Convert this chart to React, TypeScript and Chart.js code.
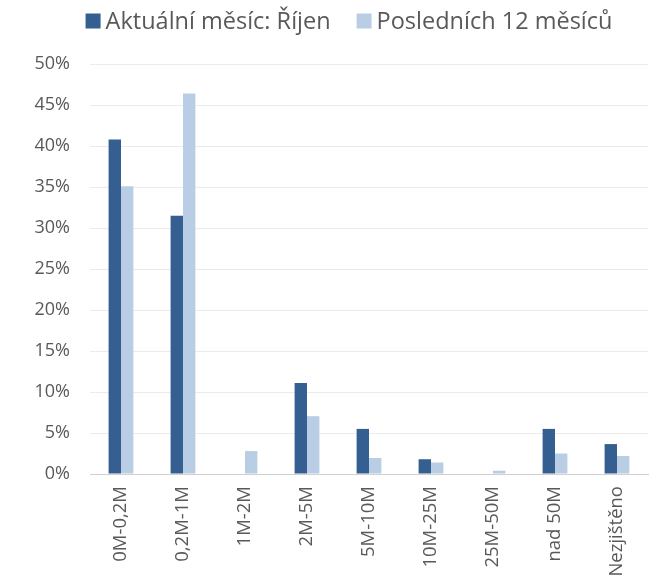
import React, { useEffect, useRef } from "react";
import { Chart, registerables } from "chart.js";

Chart.register(...registerables);

const categories = ["0M-0,2M", "0,2M-1M", "1M-2M", "2M-5M", "5M-10M", "10M-25M", "25M-50M", "nad 50M", "Nezjištěno"];
const currentMonth = [40.8, 31.5, 0, 11.1, 5.5, 1.8, 0, 5.5, 3.65];
const last12Months = [35.1, 46.4, 2.8, 7.05, 1.95, 1.4, 0.4, 2.5, 2.2];
const seriesNames = ["Aktuální měsíc: Říjen", "Posledních 12 měsíců"];
const seriesColors = ["#365F91", "#B9CDE5"];
const yTicks = [0, 5, 10, 15, 20, 25, 30, 35, 40, 45, 50];

const FONT = "'Open Sans', sans-serif";
const TEXT = "#595959";

export default function App() {
  const ref = useRef<HTMLCanvasElement>(null);
  useEffect(() => {
    if (!ref.current) return;
    const customLegend = {
      id: "customLegend",
      afterDraw(chart: any) {
        const ctx = chart.ctx;
        const box = 15;
        const gapText = 5;
        const gapItems = 26;
        const centerX = 349;
        const midY = 21;
        ctx.save();
        ctx.font = `23.5px ${FONT}`;
        ctx.textBaseline = "middle";
        ctx.textAlign = "left";
        const items = chart.data.datasets.map((d: any) => ({
          label: d.label,
          color: d.backgroundColor,
          w: ctx.measureText(d.label).width,
        }));
        const total = items.reduce((s: number, it: any, i: number) => s + box + gapText + it.w + (i > 0 ? gapItems : 0), 0);
        let x = centerX - total / 2;
        items.forEach((it: any, i: number) => {
          if (i > 0) x += gapItems;
          ctx.fillStyle = it.color;
          ctx.fillRect(x, midY - box / 2, box, box);
          x += box + gapText;
          ctx.fillStyle = TEXT;
          ctx.fillText(it.label, x, midY + 1);
          x += it.w;
        });
        ctx.restore();
      },
    };
    const chart = new Chart(ref.current, {
      type: "bar",
      data: {
        labels: categories,
        datasets: [
          { label: seriesNames[0], data: currentMonth, backgroundColor: seriesColors[0], borderWidth: 0 },
          { label: seriesNames[1], data: last12Months, backgroundColor: seriesColors[1], borderWidth: 0 },
        ],
      },
      options: {
        responsive: false,
        animation: false,
        maintainAspectRatio: false,
        layout: { padding: { left: 0, right: 7, top: 64, bottom: 0 } },
        datasets: { bar: { categoryPercentage: 0.4, barPercentage: 1 } },
        plugins: {
          tooltip: { enabled: false },
          legend: { display: false },
        },
        scales: {
          x: {
            grid: { display: false, drawTicks: false },
            border: { color: "#D0D0D0", width: 1 },
            ticks: {
              color: TEXT,
              font: { family: FONT, size: 18.5 },
              minRotation: 90,
              maxRotation: 90,
              padding: 12,
              autoSkip: false,
            },
            afterFit(scale: any) {
              scale.height = 105;
            },
          },
          y: {
            min: 0,
            max: 50,
            afterBuildTicks(scale: any) {
              scale.ticks = yTicks.map((v) => ({ value: v }));
            },
            grid: { color: "#EBEBEB", drawTicks: false, lineWidth: 1 },
            border: { display: false },
            ticks: {
              color: TEXT,
              font: { family: FONT, size: 18 },
              padding: 20,
              callback: (v: any) => v + "%",
            },
            afterFit(scale: any) {
              scale.width = 90;
            },
          },
        },
      },
      plugins: [customLegend],
    });
    return () => chart.destroy();
  }, []);
  return (
    <div style={{ position: "fixed", left: 0, top: 0, width: 655, height: 579, background: "#fff" }}>
      <canvas ref={ref} width={655} height={579} />
    </div>
  );
}
